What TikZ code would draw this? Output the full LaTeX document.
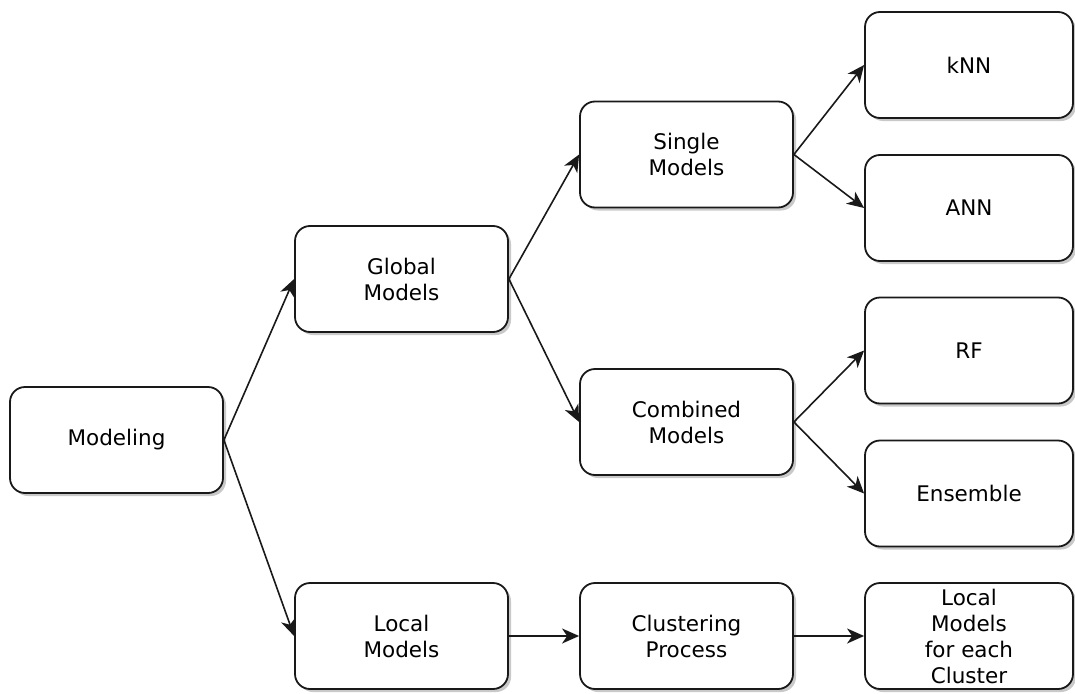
\documentclass[tikz,border=0pt]{standalone}
\usepackage{fontspec}
\setmainfont{DejaVu Sans}
\usetikzlibrary{arrows.meta,shadows}
\begin{document}
\begin{tikzpicture}[x=1pt,y=-1pt,
  box/.style={draw=black!90, line width=1.8pt, rounded corners=15pt, fill=white,
    minimum height=106pt, inner sep=0pt, align=center,
    font=\fontsize{21.5}{26}\selectfont,
    drop shadow={shadow xshift=3pt, shadow yshift=-3pt, opacity=0.3, fill=black!70}},
  midbox/.style={box, minimum width=213pt},
  leafbox/.style={box, minimum width=208pt},
  link/.style={draw=black!90, line width=1.6pt, -{Stealth[length=17pt,width=15pt,inset=5pt]}}]
\useasboundingbox (0,0) rectangle (1075,693);
% first level
\node[midbox] (model) at (116.5,440) {Modeling};
% second level
\node[midbox] (global) at (401.5,279) {Global\\Models};
\node[midbox] (local) at (401.5,636) {Local\\Models};
% third level
\node[midbox] (single) at (686.5,154.5) {Single\\Models};
\node[midbox] (combined) at (686.5,422) {Combined\\Models};
\node[midbox] (cluster) at (686.5,636) {Clustering\\Process};
% leaves
\node[leafbox] (knn) at (969,65) {kNN};
\node[leafbox] (ann) at (969,208) {ANN};
\node[leafbox] (rf) at (969,350.5) {RF};
\node[leafbox] (ens) at (969,493.5) {Ensemble};
\node[leafbox] (lmc) at (969,636) {Local\\Models\\for each\\Cluster};
% connectors
\draw[link] (model.east) -- (global.west);
\draw[link] (model.east) -- (local.west);
\draw[link] (global.east) -- (single.west);
\draw[link] (global.east) -- (combined.west);
\draw[link] (local.east) -- (cluster.west);
\draw[link] (single.east) -- (knn.west);
\draw[link] (single.east) -- (ann.west);
\draw[link] (combined.east) -- (rf.west);
\draw[link] (combined.east) -- (ens.west);
\draw[link] (cluster.east) -- (lmc.west);
\end{tikzpicture}
\end{document}
